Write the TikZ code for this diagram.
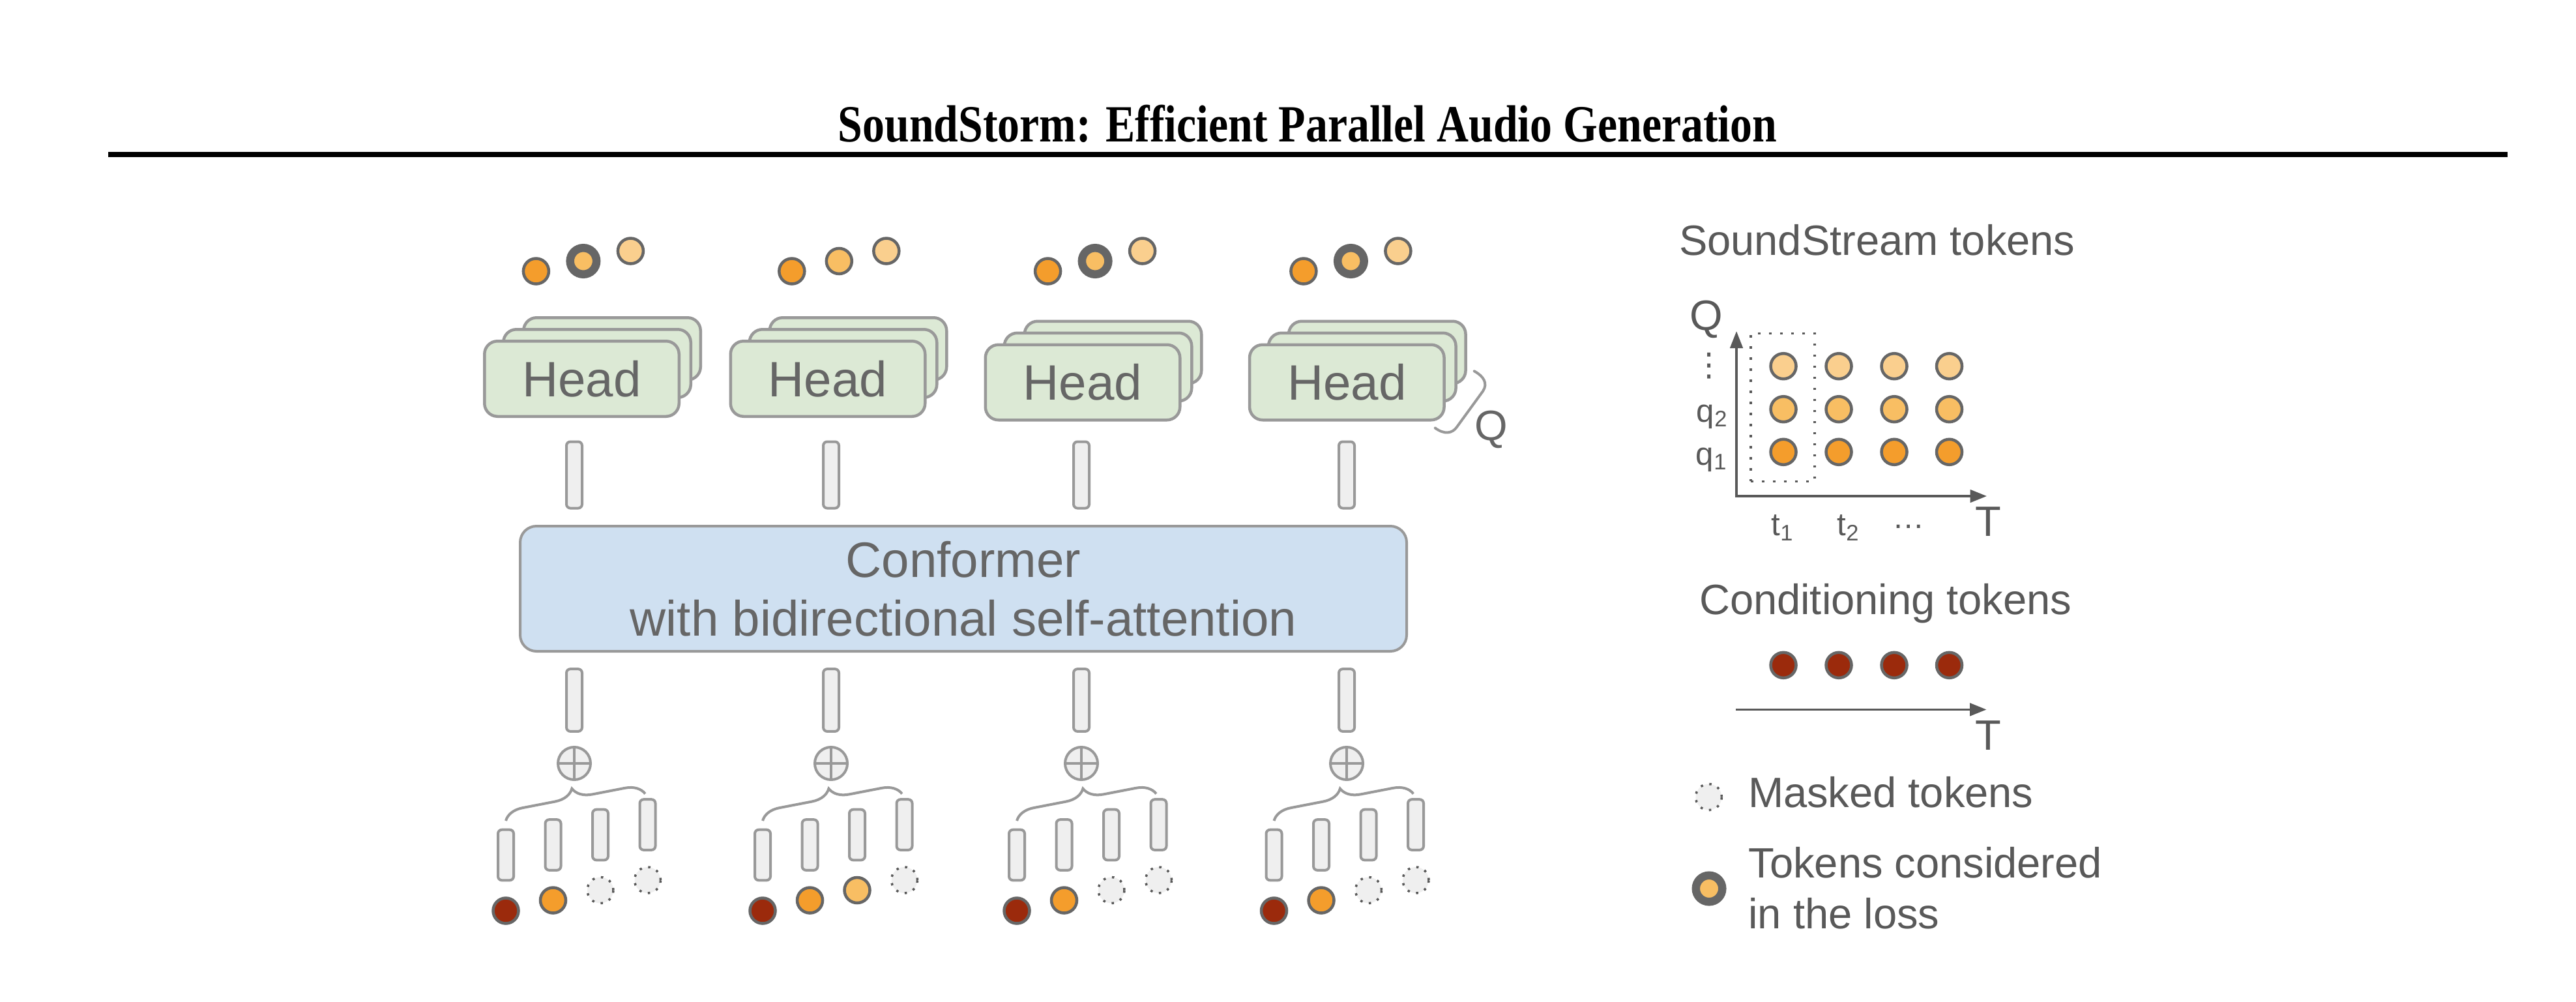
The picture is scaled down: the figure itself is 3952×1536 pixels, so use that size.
\documentclass[tikz,border=0pt]{standalone}
\usepackage{fontspec}
\setmainfont{Liberation Sans}
\newfontfamily\titlefont{Liberation Serif}
\newfontfamily\dotsfont{DejaVu Sans}
\usepackage{graphicx}
\usepackage{xcolor}
\definecolor{Deep Orange}{HTML}{F49D2C}
\definecolor{Soft Orange}{HTML}{F8BE63}
\definecolor{Pale Orange}{HTML}{FACF8E}
\definecolor{Brick Red}{HTML}{9B2A0C}
\definecolor{Sage Green}{HTML}{DCE9D5}
\definecolor{Sky Blue}{HTML}{CFE0F1}
\definecolor{Light Gray}{HTML}{EFEFEF}
\definecolor{Mid Gray}{HTML}{999999}
\definecolor{Dark Gray}{HTML}{666666}
\definecolor{Slate Gray}{HTML}{595959}
\colorlet{cOrange1}{Deep Orange}
\colorlet{cOrange2}{Soft Orange}
\colorlet{cOrange3}{Pale Orange}
\colorlet{cRed}{Brick Red}
\colorlet{cHead}{Sage Green}
\colorlet{cConf}{Sky Blue}
\colorlet{cFill}{Light Gray}
\colorlet{cLine}{Mid Gray}
\colorlet{cText}{Dark Gray}
\colorlet{cAxis}{Slate Gray}
\usepackage{tikz}
\usetikzlibrary{arrows.meta, decorations.pathreplacing}
\newlength\pxl
\setlength\pxl{0.01cm}
\tikzset{
	font = \fontsize{21.7}{25.6}\selectfont,
	every node/.append style={inner sep=0pt, outer sep=0pt, text=cText},
	token/.style={
		circle,
		draw=cText,
		line width=4.5\pxl,
		minimum size=39\pxl
	},
	midToken/.style={token, fill=cOrange2},
	lossToken/.style={
		circle,
		draw=cText,
		fill=cOrange2,
		line width=12.5\pxl,
		minimum size=40.5\pxl
	},
	maskToken/.style={
		circle,
		draw=cAxis,
		fill=cFill,
		line width=3.5\pxl,
		dash pattern=on 3.5\pxl off 10\pxl,
		minimum size=40\pxl
	},
	embBar/.style={draw=cLine, fill=cFill, rounded corners=6\pxl, minimum width=24\pxl},
	headBox/.style={
		draw=cLine,
		fill=cHead,
		line width=4.5\pxl,
		rounded corners=20\pxl,
		minimum width=298.5\pxl,
		minimum height=115.5\pxl
	},
	conformerBox/.style={
		draw=cLine,
		fill=cConf,
		rounded corners=25\pxl,
		minimum width=1360\pxl,
		minimum height=192\pxl,
		align=center
	},
	sumNode/.style={circle, draw=cLine, fill=cFill, minimum size=50\pxl},
	tokenBrace/.style={draw=cLine, decorate, decoration={brace, amplitude=8.3pt}},
	axisLine/.style={
		draw=cAxis,
		line width=3.5\pxl,
		-{Triangle[length=7.2pt, width=5.5pt]}
	},
	rtext/.style={font=\fontsize{18.5}{22}\selectfont, text=cAxis},
	stext/.style={font=\fontsize{14}{17}\selectfont, text=cAxis}
}

\begin{document}
\begin{tikzpicture}[x=0.01cm, y=-0.01cm, line width=4\pxl]
	\useasboundingbox (0,0) rectangle (3952,1536);

	\node[anchor=base, text=black, font=\titlefont\bfseries\fontsize{22.8}{27}\selectfont] (title) at (2006,217.7)
		{\resizebox{1440\pxl}{\height}{SoundStorm: Efficient Parallel Audio Generation}};
	\coordinate (ruleL) at (166,237);
	\coordinate (ruleR) at (3847,237);
	\draw[line width=7.7\pxl, black] (ruleL) -- (ruleR);

	\node[conformerBox] (conformer) at (1478,903) {Conformer\\with bidirectional self-attention};

	\foreach \g/\hx/\hy/\tx/\cx/\bx/\ts/\ms in {
		1/892.5/581/822.4/881/776/lossToken/maskToken,
		2/1270/581/1214.8/1275/1170/midToken/midToken,
		3/1661/586.5/1607.6/1659/1560/lossToken/maskToken,
		4/2066.3/586.5/1999.9/2066/1954.5/lossToken/maskToken}
	{
		% head stack
		\node[headBox, minimum width=271.5\pxl, minimum height=95.5\pxl] (head\g-3) at (\hx+46.5,\hy-46) {};
		\node[headBox, minimum width=287.5\pxl, minimum height=104.5\pxl] (head\g-2) at (\hx+23.5,\hy-23.5) {};
		\node[headBox] (head\g-1) at (\hx,\hy) {Head};

		\node[token, fill=cOrange1] (out\g-1) at (\tx,416) {};
		\node[\ts] (out\g-2) at (\tx+72.5,400.5) {};
		\node[token, fill=cOrange3] (out\g-3) at (\tx+145,385) {};

		\node[embBar, minimum height=102\pxl] (emb\g) at (\cx,728.5) {};
		\node[embBar, minimum height=95.7\pxl] (in\g) at (\cx,1074) {};
		\node[sumNode] (sum\g) at (\cx,1171) {};
		\draw[draw=cLine] (sum\g.north) -- (sum\g.south) (sum\g.west) -- (sum\g.east);

		% input tokens
		\foreach \k in {0,...,3}
			\node[embBar, minimum height=77.6\pxl] (q\g-\k) at (\bx+72.5*\k,1311.5-15.5*\k) {};
		\node[token, fill=cRed] (tok\g-0) at (\bx,1397) {};
		\node[token, fill=cOrange1] (tok\g-1) at (\bx+72.5,1381) {};
		\node[\ms] (tok\g-2) at (\bx+145,1365.5) {};
		\node[maskToken] (tok\g-3) at (\bx+217.5,1350) {};
		\draw[tokenBrace] ([yshift=13.7\pxl]q\g-0.north) -- ([xshift=-3.6\pxl, yshift=8.6\pxl]q\g-3.north);
	}

	\draw[draw=cLine, line cap=round] (2261.7,569.3) .. controls (2276,577) and (2283,588) .. (2275,600)
		-- (2235,655) .. controls (2228,665) and (2216,667) .. (2201.7,656.5);
	\node[rtext, text=cText, anchor=base] (qHead) at (2288,675) {Q};

	% SoundStream tokens
	\node[rtext, anchor=base west] (ssTitle) at (2576,391) {SoundStream tokens};
	\coordinate (qEnd) at (2664,508);
	\coordinate (origin) at (2664,761);
	\coordinate (tEnd) at (3048,761);
	\draw[axisLine, {Triangle[length=7.4pt, width=5.5pt]}-{Triangle[length=7.2pt, width=5.5pt]}] (qEnd) -- (origin) -- (tEnd);
	\node[rtext, anchor=base] (qAxis) at (2618,506) {Q};
	\node[rtext, anchor=base] (tAxis) at (3050,822.7) {T};
	\node[text=cAxis, font=\dotsfont\fontsize{14}{17}\selectfont] (qDots) at (2622,561) {⋮};
	\node[stext, anchor=base] (q2) at (2627,647) {q\textsubscript{2}};
	\node[stext, anchor=base] (q1) at (2626,713) {q\textsubscript{1}};
	\node[stext, anchor=base] (t1) at (2735,821.7) {t\textsubscript{1}};
	\node[stext, anchor=base] (t2) at (2836,821.7) {t\textsubscript{2}};
	\node[stext] (tDots) at (2928,808) {…};
	\node[draw=cAxis, line width=3.5\pxl, dash pattern=on 3.5\pxl off 13.5\pxl,
		minimum width=98\pxl, minimum height=226.6\pxl] (frame) at (2735,625) {};
	\foreach \x [count=\i] in {2736,2821,2906,2990.5} {
		\node[token, fill=cOrange3] (grid\i-3) at (\x,561.7) {};
		\node[token, fill=cOrange2] (grid\i-2) at (\x,627.7) {};
		\node[token, fill=cOrange1] (grid\i-1) at (\x,693.3) {};
	}

	% conditioning tokens
	\node[rtext, anchor=base west] (condTitle) at (2607,942.6) {Conditioning tokens};
	\foreach \x [count=\i] in {2736,2821,2906,2990.5}
		\node[token, fill=cRed] (cond\i) at (\x,1020.3) {};
	\coordinate (cStart) at (2663,1088.4);
	\coordinate (cEnd) at (3047.5,1088.4);
	\draw[axisLine] (cStart) -- (cEnd);
	\node[rtext, anchor=base] (cAxis) at (3050,1150.4) {T};

	% legend
	\node[maskToken] (maskKey) at (2621.4,1222.6) {};
	\node[rtext, anchor=base west] (maskText) at (2682,1238.4) {Masked tokens};
	\node[lossToken] (lossKey) at (2622,1363) {};
	\node[rtext, anchor=base west] (lossText1) at (2682.5,1346.7) {Tokens considered};
	\node[rtext, anchor=base west] (lossText2) at (2682.5,1424) {in the loss};
\end{tikzpicture}
\end{document}
